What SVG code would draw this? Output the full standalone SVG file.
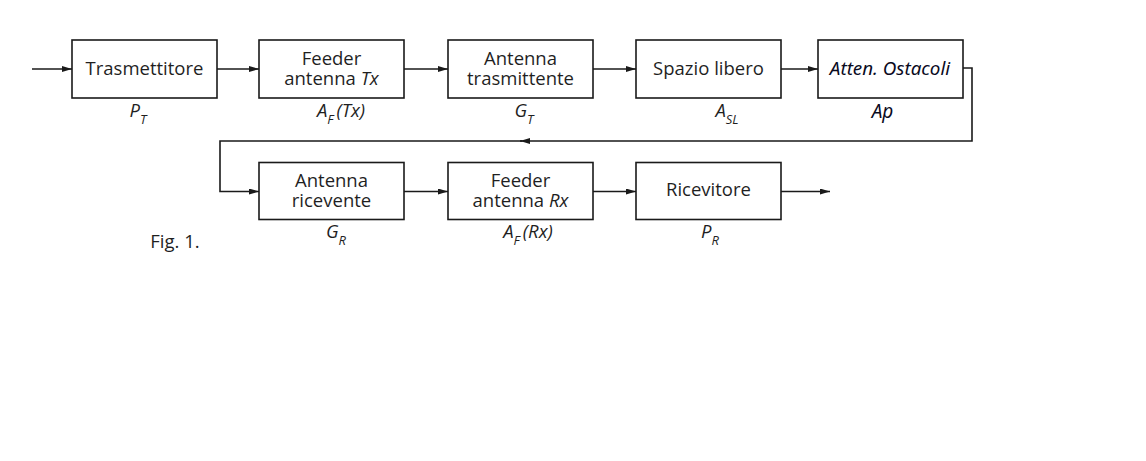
<svg xmlns="http://www.w3.org/2000/svg" width="1146" height="461" viewBox="0 0 1146 461">
<defs>
<marker id="ah" viewBox="0 0 10 6" refX="10" refY="3" markerWidth="10" markerHeight="6" markerUnits="userSpaceOnUse" orient="auto">
<path d="M0,0 L10,3 L0,6 Z" fill="#1a1a1a"/>
</marker>
<style>
.box{fill:#fff;stroke:#1a1a1a;stroke-width:1.6}
.t{font-family:"Open Sans","Noto Sans","Liberation Sans",sans-serif;font-size:18.5px;fill:#1f1f1f;text-anchor:middle}
.l{font-family:"Open Sans","Noto Sans","Liberation Sans",sans-serif;font-size:18.5px;font-style:italic;fill:#1f1f1f;text-anchor:middle}
.i{font-style:italic}
.sub{font-size:13px}
.c{fill:none;stroke:#1a1a1a;stroke-width:1.6}
.cal{font-family:"Noto Sans","Open Sans","Liberation Sans",sans-serif;font-style:italic;fill:#0a0a1e;text-anchor:middle}
</style>
</defs>
<rect width="1146" height="461" fill="#fff"/>
<g id="connectors">
<line class="c" x1="32" y1="69" x2="72" y2="69" marker-end="url(#ah)"/>
<line class="c" x1="217" y1="69" x2="259" y2="69" marker-end="url(#ah)"/>
<line class="c" x1="404" y1="69" x2="448" y2="69" marker-end="url(#ah)"/>
<line class="c" x1="593" y1="69" x2="636" y2="69" marker-end="url(#ah)"/>
<line class="c" x1="781" y1="69" x2="818" y2="69" marker-end="url(#ah)"/>
<polyline class="c" points="963,68 972,68 972,141 520,141" marker-end="url(#ah)"/>
<polyline class="c" points="522,141 220,141 220,191.5 259,191.5" marker-end="url(#ah)"/>
<line class="c" x1="404" y1="191.5" x2="448" y2="191.5" marker-end="url(#ah)"/>
<line class="c" x1="593" y1="191.5" x2="636" y2="191.5" marker-end="url(#ah)"/>
<line class="c" x1="781" y1="191.5" x2="830" y2="191.5" marker-end="url(#ah)"/>
</g>
<g id="n1">
<rect class="box" x="72" y="40" width="145" height="58"/>
<text class="t" x="144.5" y="75">Trasmettitore</text>
<text class="l" x="138" y="117">P<tspan class="sub" dy="7">T</tspan></text>
</g>
<g id="n2">
<rect class="box" x="259" y="40" width="145" height="58"/>
<text class="t" x="331.5" y="65">Feeder</text>
<text class="t" x="331.5" y="84.5">antenna <tspan class="i">Tx</tspan></text>
<text class="l" x="341" y="117">A<tspan class="sub" dy="7">F</tspan><tspan dx="3" dy="-7">(Tx)</tspan></text>
</g>
<g id="n3">
<rect class="box" x="448" y="40" width="145" height="58"/>
<text class="t" x="520.5" y="65">Antenna</text>
<text class="t" x="520.5" y="84.5">trasmittente</text>
<text class="l" x="524" y="117">G<tspan class="sub" dy="7">T</tspan></text>
</g>
<g id="n4">
<rect class="box" x="636" y="40" width="145" height="58"/>
<text class="t" x="708.5" y="75">Spazio libero</text>
<text class="l" x="727" y="117">A<tspan class="sub" dy="7">SL</tspan></text>
</g>
<g id="n5">
<rect class="box" x="818" y="40" width="145" height="58"/>
<text class="cal" x="890" y="75" font-size="18.8">Atten. Ostacoli</text>
<text class="cal" x="882.5" y="118" font-size="19">Ap</text>
</g>
<g id="n6">
<rect class="box" x="259" y="162.5" width="145" height="57"/>
<text class="t" x="331.5" y="187">Antenna</text>
<text class="t" x="331.5" y="206.5">ricevente</text>
<text class="l" x="336" y="238">G<tspan class="sub" dy="7">R</tspan></text>
</g>
<g id="n7">
<rect class="box" x="448" y="162.5" width="145" height="57"/>
<text class="t" x="520.5" y="187">Feeder</text>
<text class="t" x="520.5" y="206.5">antenna <tspan class="i">Rx</tspan></text>
<text class="l" x="528" y="238">A<tspan class="sub" dy="7">F</tspan><tspan dx="3" dy="-7">(Rx)</tspan></text>
</g>
<g id="n8">
<rect class="box" x="636" y="162.5" width="145" height="57"/>
<text class="t" x="708.5" y="196">Ricevitore</text>
<text class="l" x="710" y="238">P<tspan class="sub" dy="7">R</tspan></text>
</g>
<text class="t" x="175" y="248" font-size="19.5">Fig. 1.</text>
</svg>
